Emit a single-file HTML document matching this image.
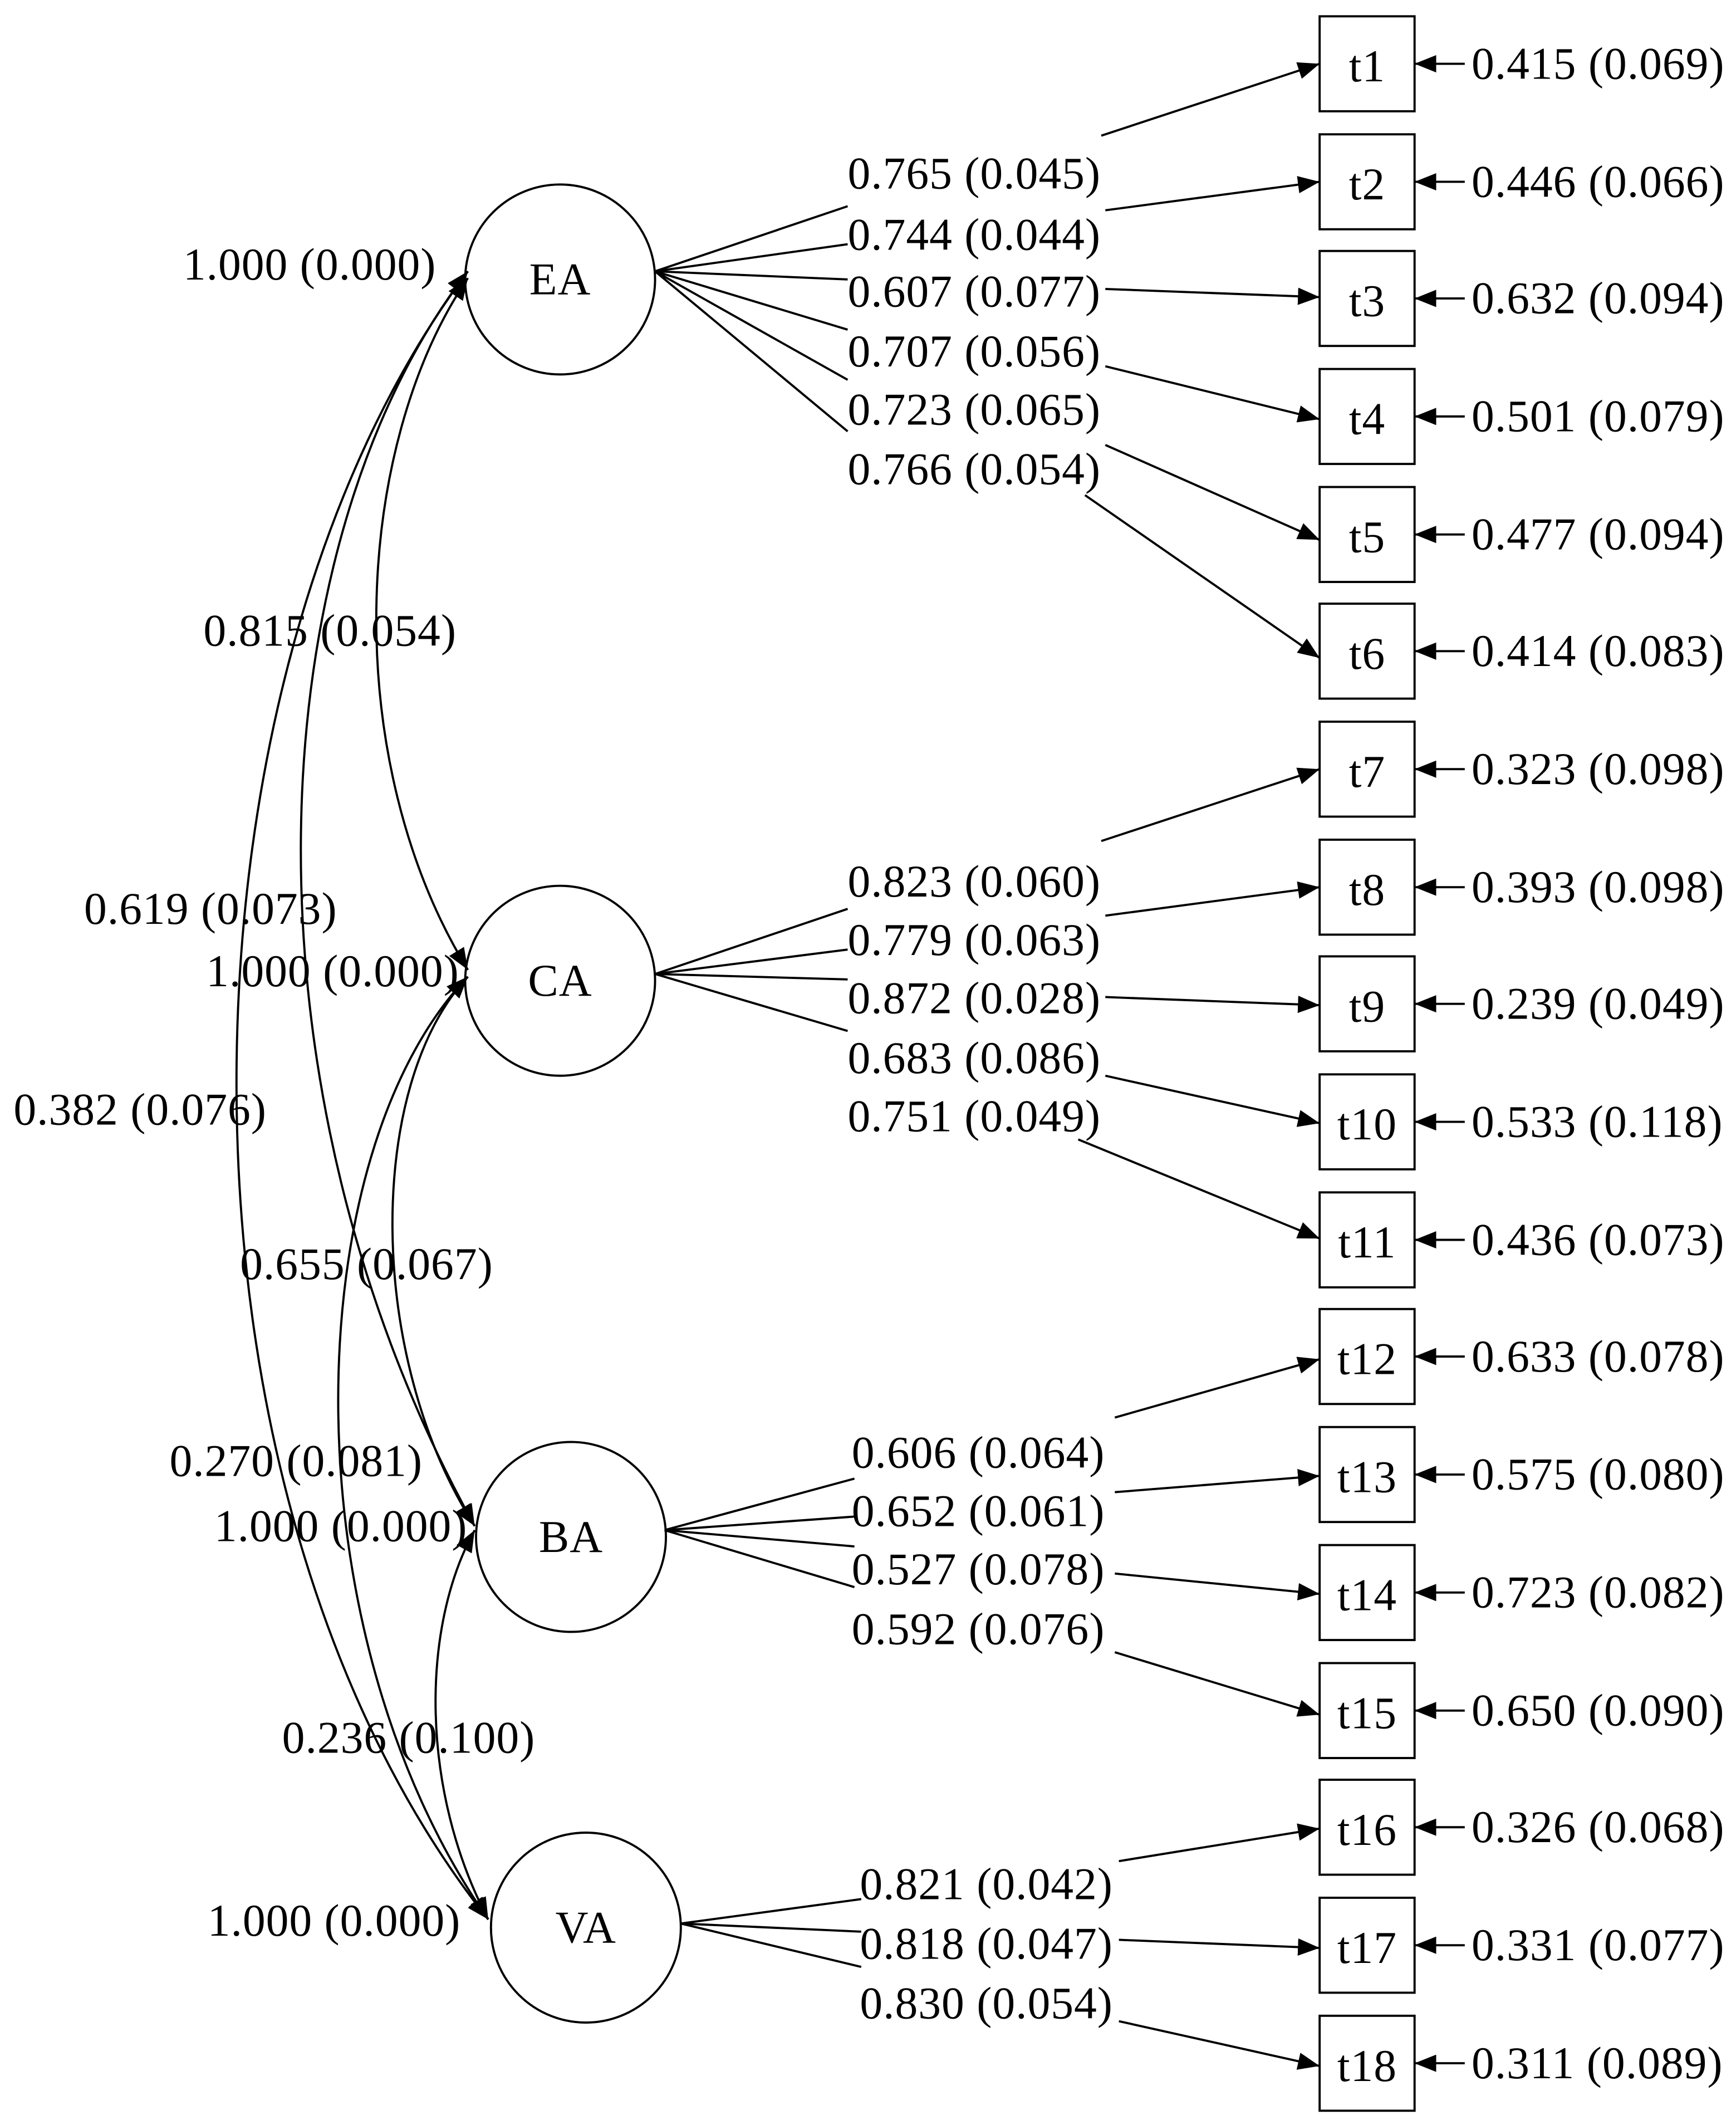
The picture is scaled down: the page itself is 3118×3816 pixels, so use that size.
<!DOCTYPE html>
<html><head><meta charset="utf-8"><style>
html,body{margin:0;padding:0;background:#fff;}
svg{display:block;}
text{font-family:"Liberation Serif",serif;font-size:33.5px;fill:#000;letter-spacing:0.4px;}
</style></head><body>
<svg width="3118" height="3816" viewBox="0 0 1280 1566.5" xmlns="http://www.w3.org/2000/svg">
<defs>
<marker id="ah" viewBox="0 0 10 10" refX="10" refY="5" markerWidth="16" markerHeight="16" markerUnits="userSpaceOnUse" orient="auto-start-reverse">
<path d="M0,1 L10,5 L0,9 z" fill="#000"/></marker>
</defs>
<rect width="1280" height="1566.5" fill="#fff"/>
<g fill="none" stroke="#000" stroke-width="1.6">
<circle cx="413" cy="206" r="70"/>
<circle cx="413" cy="723" r="70"/>
<circle cx="421" cy="1133" r="70"/>
<circle cx="432" cy="1421" r="70"/>
<rect x="973" y="12" width="70" height="70"/>
<rect x="973" y="99" width="70" height="70"/>
<rect x="973" y="185" width="70" height="70"/>
<rect x="973" y="272" width="70" height="70"/>
<rect x="973" y="359" width="70" height="70"/>
<rect x="973" y="445" width="70" height="70"/>
<rect x="973" y="532" width="70" height="70"/>
<rect x="973" y="619" width="70" height="70"/>
<rect x="973" y="705" width="70" height="70"/>
<rect x="973" y="792" width="70" height="70"/>
<rect x="973" y="879" width="70" height="70"/>
<rect x="973" y="965" width="70" height="70"/>
<rect x="973" y="1052" width="70" height="70"/>
<rect x="973" y="1139" width="70" height="70"/>
<rect x="973" y="1226" width="70" height="70"/>
<rect x="973" y="1312" width="70" height="70"/>
<rect x="973" y="1399" width="70" height="70"/>
<rect x="973" y="1486" width="70" height="70"/>
</g>
<g stroke="#000" stroke-width="1.6" marker-end="url(#ah)">
<line x1="1080" y1="47" x2="1043" y2="47"/>
<line x1="1080" y1="134" x2="1043" y2="134"/>
<line x1="1080" y1="220" x2="1043" y2="220"/>
<line x1="1080" y1="307" x2="1043" y2="307"/>
<line x1="1080" y1="394" x2="1043" y2="394"/>
<line x1="1080" y1="480" x2="1043" y2="480"/>
<line x1="1080" y1="567" x2="1043" y2="567"/>
<line x1="1080" y1="654" x2="1043" y2="654"/>
<line x1="1080" y1="740" x2="1043" y2="740"/>
<line x1="1080" y1="827" x2="1043" y2="827"/>
<line x1="1080" y1="914" x2="1043" y2="914"/>
<line x1="1080" y1="1000" x2="1043" y2="1000"/>
<line x1="1080" y1="1087" x2="1043" y2="1087"/>
<line x1="1080" y1="1174" x2="1043" y2="1174"/>
<line x1="1080" y1="1261" x2="1043" y2="1261"/>
<line x1="1080" y1="1347" x2="1043" y2="1347"/>
<line x1="1080" y1="1434" x2="1043" y2="1434"/>
<line x1="1080" y1="1521" x2="1043" y2="1521"/>
</g>
<g stroke="#000" stroke-width="1.6" fill="none">
<line x1="483" y1="200" x2="625" y2="152"/>
<line x1="483" y1="200" x2="625" y2="180"/>
<line x1="483" y1="200" x2="625" y2="206"/>
<line x1="483" y1="200" x2="625" y2="243"/>
<line x1="483" y1="200" x2="625" y2="280"/>
<line x1="483" y1="200" x2="625" y2="318"/>
<line x1="483" y1="718" x2="625" y2="670"/>
<line x1="483" y1="718" x2="625" y2="700"/>
<line x1="483" y1="718" x2="625" y2="722"/>
<line x1="483" y1="718" x2="625" y2="760"/>
<line x1="490" y1="1128" x2="630" y2="1090"/>
<line x1="490" y1="1128" x2="630" y2="1118"/>
<line x1="490" y1="1128" x2="630" y2="1140"/>
<line x1="490" y1="1128" x2="630" y2="1170"/>
<line x1="502" y1="1418" x2="635" y2="1400"/>
<line x1="502" y1="1418" x2="635" y2="1424"/>
<line x1="502" y1="1418" x2="635" y2="1450"/>
</g>
<g stroke="#000" stroke-width="1.6" marker-end="url(#ah)">
<line x1="812" y1="100" x2="973" y2="47"/>
<line x1="815" y1="155" x2="973" y2="134"/>
<line x1="815" y1="213" x2="973" y2="219"/>
<line x1="815" y1="270" x2="973" y2="309"/>
<line x1="815" y1="328" x2="973" y2="398"/>
<line x1="800" y1="365" x2="973" y2="485"/>
<line x1="812" y1="620" x2="973" y2="567"/>
<line x1="815" y1="675" x2="973" y2="654"/>
<line x1="815" y1="735" x2="973" y2="741"/>
<line x1="815" y1="793" x2="973" y2="828"/>
<line x1="795" y1="840" x2="973" y2="913"/>
<line x1="822" y1="1045" x2="973" y2="1002"/>
<line x1="822" y1="1100" x2="973" y2="1088"/>
<line x1="822" y1="1160" x2="973" y2="1175"/>
<line x1="822" y1="1218" x2="973" y2="1264"/>
<line x1="825" y1="1372" x2="973" y2="1348"/>
<line x1="825" y1="1430" x2="973" y2="1436"/>
<line x1="825" y1="1490" x2="973" y2="1523"/>
</g>
<g stroke="#000" stroke-width="1.6" fill="none" marker-start="url(#ah)" marker-end="url(#ah)">
<path d="M345 205 C260 330, 250 560, 345 715"/>
<path d="M345 200 C190 400, 170 800, 350 1125"/>
<path d="M345 200 C120 500, 110 1100, 360 1415"/>
<path d="M345 720 C270 800, 270 1000, 350 1125"/>
<path d="M345 720 C220 850, 210 1200, 360 1415"/>
<path d="M350 1128 C310 1200, 310 1320, 360 1415"/>
</g>
<g text-anchor="middle">
<text x="413" y="217">EA</text>
<text x="413" y="734">CA</text>
<text x="421" y="1144">BA</text>
<text x="432" y="1432">VA</text>
<text x="1008" y="60">t1</text>
<text x="1008" y="147">t2</text>
<text x="1008" y="233">t3</text>
<text x="1008" y="320">t4</text>
<text x="1008" y="407">t5</text>
<text x="1008" y="493">t6</text>
<text x="1008" y="580">t7</text>
<text x="1008" y="667">t8</text>
<text x="1008" y="753">t9</text>
<text x="1008" y="840">t10</text>
<text x="1008" y="927">t11</text>
<text x="1008" y="1013">t12</text>
<text x="1008" y="1100">t13</text>
<text x="1008" y="1187">t14</text>
<text x="1008" y="1274">t15</text>
<text x="1008" y="1360">t16</text>
<text x="1008" y="1447">t17</text>
<text x="1008" y="1534">t18</text>
</g>
<g>
<text x="1085" y="58">0.415 (0.069)</text>
<text x="1085" y="145">0.446 (0.066)</text>
<text x="1085" y="231">0.632 (0.094)</text>
<text x="1085" y="318">0.501 (0.079)</text>
<text x="1085" y="405">0.477 (0.094)</text>
<text x="1085" y="491">0.414 (0.083)</text>
<text x="1085" y="578">0.323 (0.098)</text>
<text x="1085" y="665">0.393 (0.098)</text>
<text x="1085" y="751">0.239 (0.049)</text>
<text x="1085" y="838">0.533 (0.118)</text>
<text x="1085" y="925">0.436 (0.073)</text>
<text x="1085" y="1011">0.633 (0.078)</text>
<text x="1085" y="1098">0.575 (0.080)</text>
<text x="1085" y="1185">0.723 (0.082)</text>
<text x="1085" y="1272">0.650 (0.090)</text>
<text x="1085" y="1358">0.326 (0.068)</text>
<text x="1085" y="1445">0.331 (0.077)</text>
<text x="1085" y="1532">0.311 (0.089)</text>
</g>
<g>
<text x="625" y="139">0.765 (0.045)</text>
<text x="625" y="184">0.744 (0.044)</text>
<text x="625" y="226">0.607 (0.077)</text>
<text x="625" y="270">0.707 (0.056)</text>
<text x="625" y="313">0.723 (0.065)</text>
<text x="625" y="357">0.766 (0.054)</text>
<text x="625" y="661">0.823 (0.060)</text>
<text x="625" y="704">0.779 (0.063)</text>
<text x="625" y="747">0.872 (0.028)</text>
<text x="625" y="791">0.683 (0.086)</text>
<text x="625" y="834">0.751 (0.049)</text>
<text x="628" y="1082">0.606 (0.064)</text>
<text x="628" y="1125">0.652 (0.061)</text>
<text x="628" y="1168">0.527 (0.078)</text>
<text x="628" y="1212">0.592 (0.076)</text>
<text x="634" y="1400">0.821 (0.042)</text>
<text x="634" y="1444">0.818 (0.047)</text>
<text x="634" y="1488">0.830 (0.054)</text>
</g>
<g>
<text x="135" y="206">1.000 (0.000)</text>
<text x="150" y="476">0.815 (0.054)</text>
<text x="62" y="681">0.619 (0.073)</text>
<text x="152" y="727">1.000 (0.000)</text>
<text x="10" y="829">0.382 (0.076)</text>
<text x="177" y="943">0.655 (0.067)</text>
<text x="125" y="1088">0.270 (0.081)</text>
<text x="158" y="1136">1.000 (0.000)</text>
<text x="208" y="1292">0.236 (0.100)</text>
<text x="153" y="1427">1.000 (0.000)</text>
</g>
</svg>
</body></html>
